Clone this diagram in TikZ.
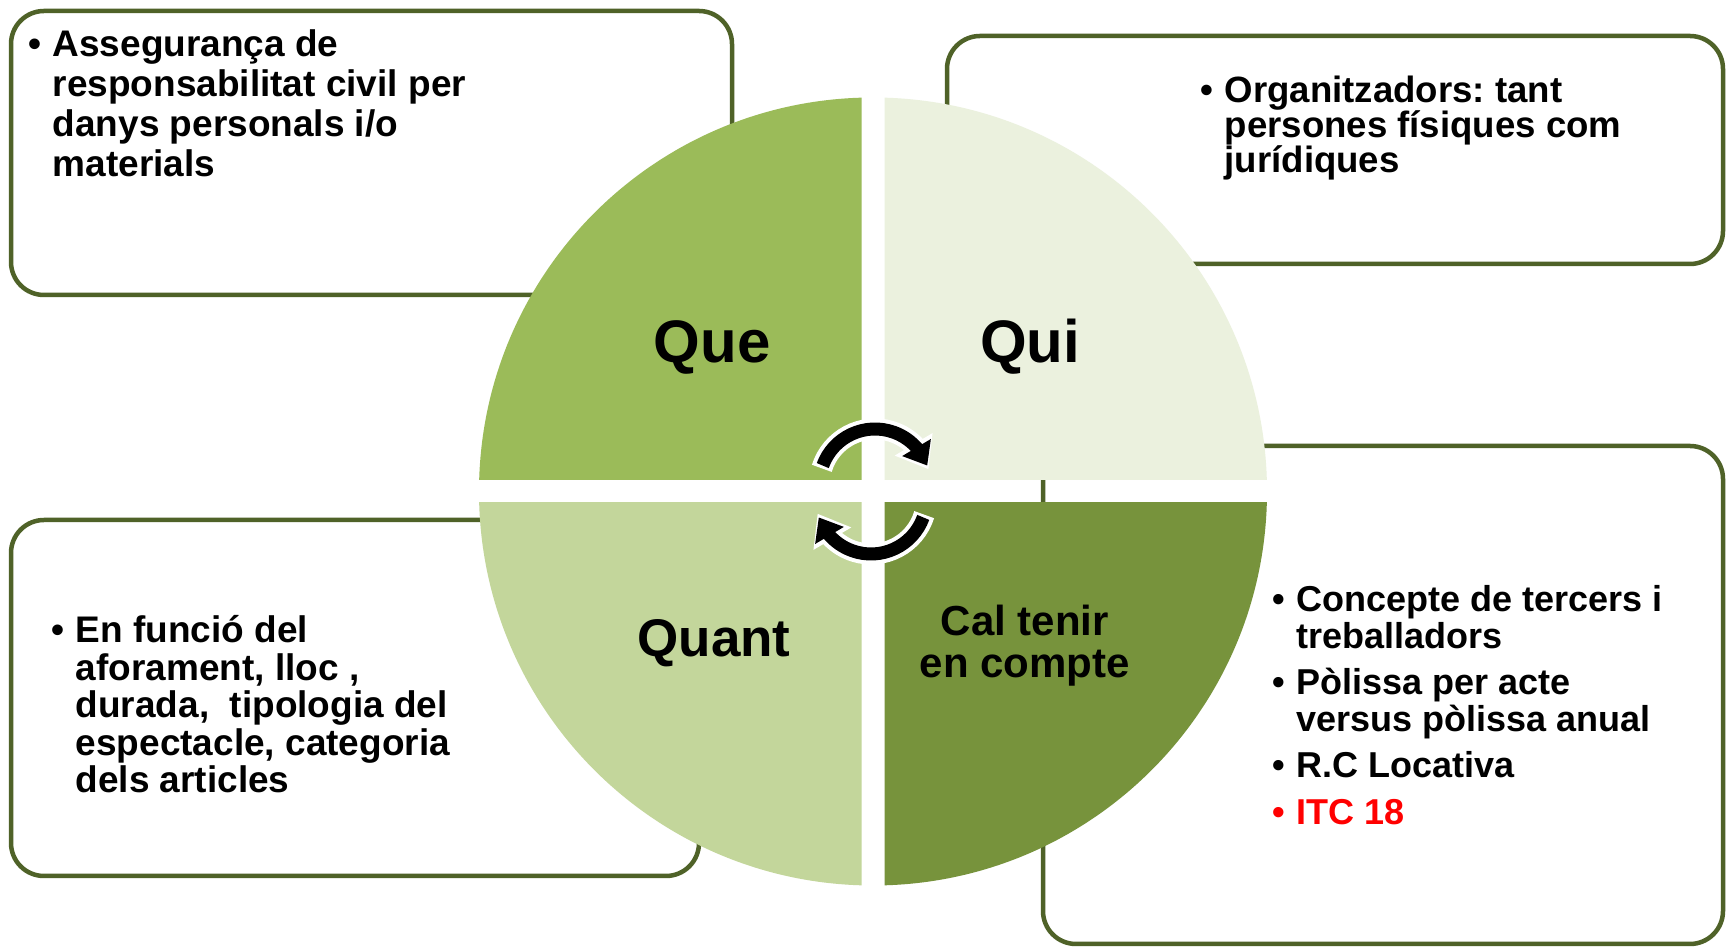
\documentclass[tikz,border=0pt]{standalone}
\usepackage{fontspec}
\setmainfont{Liberation Sans}
\usepackage{xcolor}
\usetikzlibrary{arrows.meta,bending,calc}
\definecolor{boxGreen}{HTML}{4F6228}
\definecolor{queGreen}{HTML}{9BBB59}
\definecolor{quiGreen}{HTML}{EBF1DE}
\definecolor{quantGreen}{HTML}{C3D69B}
\definecolor{calGreen}{HTML}{77933C}
\definecolor{itcRed}{HTML}{FF0000}
\frenchspacing
\newlength{\bulw}
\setlength{\bulw}{24pt}
\newcommand{\bul}{\par\hangindent=\bulw\hangafter=1\noindent\makebox[\bulw][l]{\textbullet}}
\tikzset{
  infobox/.style={draw=boxGreen, line width=4.5pt, fill=white, rounded corners=33pt},
  txt/.style 2 args={anchor=base west, inner sep=0pt, font=\bfseries\fontsize{#1}{#2}\selectfont},
  quad/.style={anchor=base, inner sep=0pt, font=\bfseries\fontsize{#1}{#1}\selectfont},
  cycw/.style={draw=white, line width=21pt, -{Triangle[width=42pt,length=29pt]}},
  cycb/.style={draw=black, line width=13pt, -{Triangle[width=32pt,length=21pt]}}
}

\begin{document}
\begin{tikzpicture}[x=1pt,y=1pt]
\useasboundingbox (0,0) rectangle (1727,947);
\fill[white] (0,0) rectangle (1727,947);
\draw[infobox] (11,652) rectangle (732,936);
\draw[infobox] (947,683) rectangle (1723,911);
\draw[infobox] (11,71) rectangle (699,427);
\draw[infobox] (1043,3) rectangle (1723,501);
\coordinate (c) at (873,455.5);
\begin{scope}
\clip (400,467) rectangle (861.5,900);
\fill[queGreen] (c) circle[radius=394];
\end{scope}
\begin{scope}
\clip (884.5,467) rectangle (1300,900);
\fill[quiGreen] (c) circle[radius=394];
\end{scope}
\begin{scope}
\clip (400,444) rectangle (861.5,0);
\fill[quantGreen] (c) circle[radius=394];
\end{scope}
\begin{scope}
\clip (884.5,444) rectangle (1300,0);
\fill[calGreen] (c) circle[radius=394];
\end{scope}
\coordinate (ctop) at (875,462.4);
\coordinate (cbot) at (871,448.6);
\draw[cycw] ($(ctop)+(163:55.6)$) arc[start angle=163, end angle=16, radius=55.6];
\draw[cycb] ($(ctop)+(160:55.6)$) arc[start angle=160, end angle=20, radius=55.6];
\draw[cycw] ($(cbot)+(-17:55.6)$) arc[start angle=-17, end angle=-164, radius=55.6];
\draw[cycb] ($(cbot)+(-20:55.6)$) arc[start angle=-20, end angle=-160, radius=55.6];
\node (que) at (712,584) [quad=60] {Que};
\node (qui) at (1030,584) [quad=60] {Qui};
\node (quant) at (714,290) [quad=53] {Quant};
\node (cal) at (1025,311) [quad=42] {\parbox[t]{300pt}{\centering Cal tenir\\en compte}};
\node (queTxt) at (28.5,890) [txt={37}{40}] {\parbox[t]{650pt}{%
  \bul Assegurança de\\responsabilitat civil per\\danys personals i/o\\materials}};
\node (quiTxt) at (1200.5,844) [txt={36.6}{35}] {\parbox[t]{500pt}{%
  \bul Organitzadors: tant\\persones físiques com\\jurídiques}};
\node (quantTxt) at (51.5,304) [txt={37}{37.5}] {\parbox[t]{620pt}{%
  \bul En funció del\\aforament, lloc ,\\durada,~ tipologia del\\espectacle, categoria\\dels articles}};
\node (calTxt) at (1272.5,335) [txt={36}{36.5}] {\parbox[t]{440pt}{%
  \bul Concepte de tercers i\\treballadors\par\vspace{10pt}
  \bul Pòlissa per acte\\versus pòlissa anual\par\vspace{10pt}
  \bul R.C Locativa\par\vspace{10pt}
  \color{itcRed}\bul ITC 18}};
\end{tikzpicture}
\end{document}
